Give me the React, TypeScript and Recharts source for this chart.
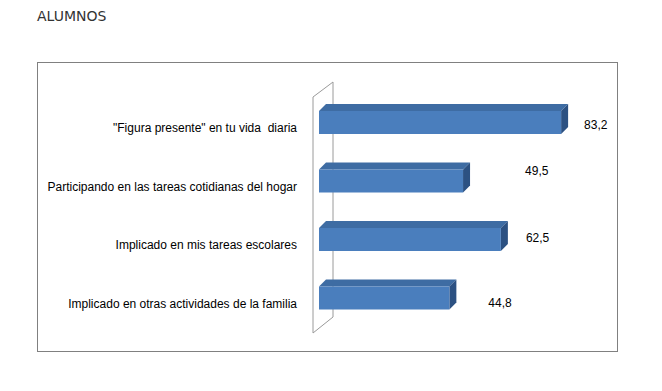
import { BarChart, Bar, XAxis, YAxis, LabelList, useOffset } from "recharts";

const categories = [
  "\"Figura presente\" en tu vida  diaria",
  "Participando en las tareas cotidianas del hogar",
  "Implicado en mis tareas escolares",
  "Implicado en otras actividades de la familia",
];
const values = [83.2, 49.5, 62.5, 44.8];
const valueLabels = ["83,2", "49,5", "62,5", "44,8"];

// nudges for value labels (Excel's 3D placement is irregular)
const labelNudge = [
  [23, 2],
  [62, -10],
  [25, -2],
  [39, 5],
];

const data = categories.map((name, i) => ({ name, value: values[i], label: valueLabels[i] }));

const W = 662;
const H = 391;
const DEPTH = 7;
const FONT = "'Liberation Sans', Arial, sans-serif";

function Bar3D(props: any) {
  const { x, y, width, height } = props;
  const d = DEPTH;
  return (
    <g>
      <polygon
        points={`${x},${y} ${x + d},${y - d} ${x + width + d},${y - d} ${x + width},${y}`}
        fill="#3e6ca3"
      />
      <polygon
        points={`${x + width},${y} ${x + width + d},${y - d} ${x + width + d},${y + height - d} ${x + width},${y + height}`}
        fill="#2c5182"
      />
      <rect x={x} y={y} width={width} height={height} fill="#4a7ebd" />
    </g>
  );
}

// the 3D back wall behind the category axis
function Wall() {
  const off = useOffset();
  if (!off) return null;
  const l = off.left - 6;
  const top = off.top;
  const bottom = H - off.bottom;
  return (
    <g stroke="#9a9a9a" strokeWidth={1} fill="none">
      <line x1={l} y1={top + 4} x2={l} y2={bottom + 6} />
      <line x1={l} y1={top + 4} x2={l + 20} y2={top - 11} />
      <line x1={l + 20} y1={top - 11} x2={l + 20} y2={bottom - 10} />
      <line x1={l} y1={bottom + 6} x2={l + 20} y2={bottom - 10} />
    </g>
  );
}

function CatTick(props: any) {
  const { x, y, payload } = props;
  return (
    <text
      x={x - 14}
      y={y + 10}
      textAnchor="end"
      fontSize={12}
      fill="#000"
      fontFamily={FONT}
      style={{ whiteSpace: "pre" }}
    >
      {payload.value}
    </text>
  );
}

function ValueLabel(props: any) {
  const { x, y, width, height, index, value } = props;
  const [dx, dy] = labelNudge[index] || [20, 0];
  return (
    <text
      x={x + width + dx}
      y={y + height / 2 + dy + 4}
      fontSize={12}
      fill="#000"
      fontFamily={FONT}
    >
      {value}
    </text>
  );
}

export default function App() {
  return (
    <div style={{ position: "absolute", left: 0, top: 0, width: W, height: H, background: "#fff" }}>
      <div
        style={{
          position: "absolute",
          left: 37,
          top: 8,
          fontFamily: "'DejaVu Sans', sans-serif",
          fontSize: 14,
          color: "#333",
        }}
      >
        ALUMNOS
      </div>
      <div
        style={{
          position: "absolute",
          left: 37,
          top: 62,
          width: 579,
          height: 288,
          border: "1px solid #808080",
        }}
      />
      <div style={{ position: "absolute", left: 0, top: 0 }}>
        <BarChart
          width={W}
          height={H}
          data={data}
          layout="vertical"
          margin={{ top: 93, right: 52, bottom: 64, left: 49 }}
        >
          <XAxis type="number" domain={[0, 100]} hide />
          <YAxis
            type="category"
            dataKey="name"
            width={270}
            axisLine={false}
            tickLine={false}
            tick={<CatTick />}
          />
          <Wall />
          <Bar dataKey="value" barSize={23} shape={<Bar3D />} isAnimationActive={false}>
            <LabelList dataKey="label" content={<ValueLabel />} />
          </Bar>
        </BarChart>
      </div>
    </div>
  );
}
